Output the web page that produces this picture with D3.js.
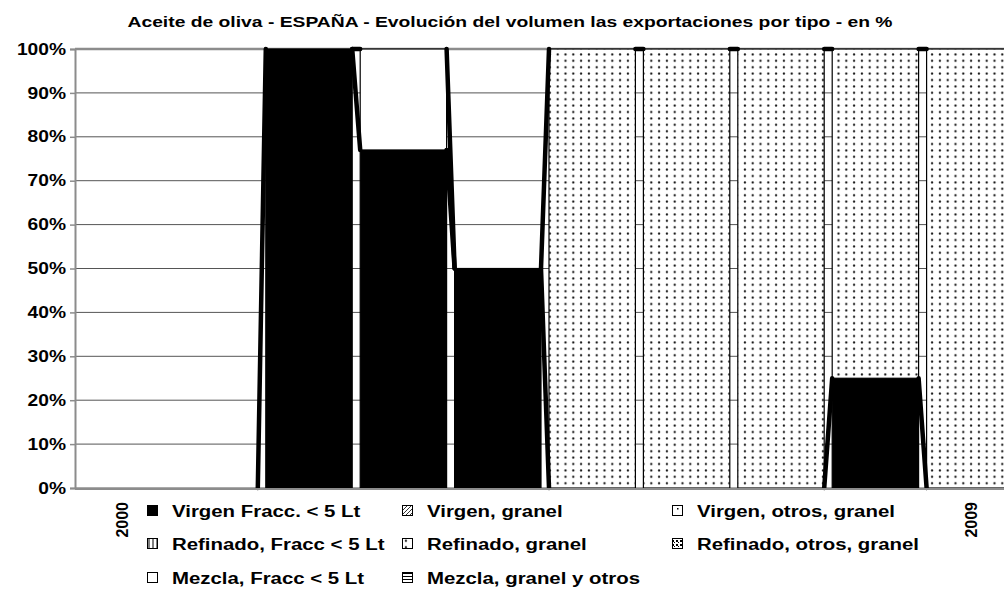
<!DOCTYPE html>
<meta charset="utf-8">
<body style="margin:0;background:#fff">
<div id="chart"></div>
<script src="https://cdn.jsdelivr.net/npm/d3@7/dist/d3.min.js"></script>
<script>
// years on the category axis
const years = ["2000", "2001", "2002", "2003", "2004", "2005", "2006", "2007", "2008", "2009"];

const seriesNames = ["Virgen Fracc. < 5 Lt", "Virgen, granel", "Virgen, otros, granel",
  "Refinado, Fracc < 5 Lt", "Refinado, granel", "Refinado, otros, granel",
  "Mezcla, Fracc < 5 Lt", "Mezcla, granel y otros"];

// % of volume
const virgenFracc    = [0, 0, 100, 77, 50, 0, 0, 0, 25, 0];
const virgenGranel   = [0, 0, 0, 0, 0, 0, 0, 0, 0, 0];
const virgenOtros    = [0, 0, 0, 0, 0, 0, 0, 0, 0, 0];
const refinadoFracc  = [0, 0, 0, 0, 0, 0, 0, 0, 0, 0];
const refinadoGranel = [0, 0, 0, 0, 0, 100, 100, 100, 75, 100];
const refinadoOtros  = [0, 0, 0, 0, 0, 0, 0, 0, 0, 0];
const mezclaFracc    = [0, 0, 0, 23, 0, 0, 0, 0, 0, 0];
const mezclaGranel   = [0, 0, 0, 0, 0, 0, 0, 0, 0, 0];

const yTicks = [0, 10, 20, 30, 40, 50, 60, 70, 80, 90, 100];

const width = 1004, height = 600,
    mLeft = 75, mTop = 49, plotW = 944, plotH = 439,
    padL = 2, padR = 6,
    stretch = 1.2; // the original text is a bit wide

const svg = d3.select("#chart").append("svg")
    .attr("width", width)
    .attr("height", height)
    .style("font-family", "'Liberation Sans', Arial, sans-serif")
    .style("font-weight", "bold");

// fill patterns, one per series
const defs = svg.append("defs");
function pattern(id, w, h) {
    const p = defs.append("pattern").attr("id", id)
        .attr("patternUnits", "userSpaceOnUse").attr("width", w).attr("height", h);
    p.append("rect").attr("width", w).attr("height", h).attr("fill", "#fff");
    return p;
}
pattern("pHatch", 4, 4).append("path").attr("d", "M0,4 L4,0 M-1,1 L1,-1 M3,5 L5,3").attr("stroke", "#000").attr("stroke-width", 0.8);
pattern("pSparse", 8, 8).append("rect").attr("x", 5).attr("y", 5).attr("width", 1.5).attr("height", 1.5).attr("fill", "#000");
pattern("pVert", 4, 4).append("rect").attr("x", 1.5).attr("width", 1).attr("height", 4).attr("fill", "#000");
var pd = pattern("pDots", 7.8, 6.4);
pd.append("circle").attr("cx", 3.9).attr("cy", 3.2).attr("r", 1.1).attr("fill", "#111");
var po = pattern("pDense", 4, 4);
po.append("rect").attr("width", 2).attr("height", 2).attr("fill", "#000");
po.append("rect").attr("x", 2).attr("y", 2).attr("width", 1).attr("height", 1).attr("fill", "#000");
pattern("pHoriz", 4, 3).append("rect").attr("y", 1).attr("width", 4).attr("height", 1).attr("fill", "#000");

const fills = ["#000", "url(#pHatch)", "url(#pSparse)", "url(#pVert)",
    "url(#pDots)", "url(#pDense)", "#fff", "url(#pHoriz)"];

// title
svg.append("text")
    .attr("x", 510)
    .attr("y", 27)
    .attr("text-anchor", "middle")
    .attr("textLength", 765)
    .attr("lengthAdjust", "spacingAndGlyphs")
    .style("font-size", "15px")
    .text("Aceite de oliva - ESPAÑA - Evolución del volumen las exportaciones por tipo - en %");

const x = d3.scaleBand().domain(years).range([mLeft, mLeft + plotW]);
const y = d3.scaleLinear().domain([0, 100]).range([mTop + plotH, mTop]);

// gridlines
svg.append("g").selectAll("line")
    .data(yTicks)
    .join("line")
    .attr("x1", mLeft).attr("x2", mLeft + plotW)
    .attr("y1", d => y(d)).attr("y2", d => y(d))
    .attr("stroke", d => d === 100 ? "#8c8c8c" : "#555")
    .attr("stroke-width", d => d === 100 ? 2.5 : 1);

// stacked data
const table = years.map((yr, i) => {
    const row = { year: yr };
    [virgenFracc, virgenGranel, virgenOtros, refinadoFracc, refinadoGranel,
     refinadoOtros, mezclaFracc, mezclaGranel].forEach((s, k) => row[seriesNames[k]] = s[i]);
    return row;
});
const stacked = d3.stack().keys(seriesNames)(table);

const bw = x.bandwidth();
const plot = svg.append("g");

// one block per year and series
stacked.forEach((layer, k) => {
    plot.append("g").selectAll("rect")
        .data(layer.filter(d => d[1] - d[0] > 0))
        .join("rect")
        .attr("x", d => x(d.data.year) + padL)
        .attr("width", bw - padL - padR)
        .attr("y", d => y(d[1]))
        .attr("height", d => y(d[0]) - y(d[1]))
        .attr("fill", fills[k])
        .attr("stroke", "#000")
        .attr("stroke-width", 1.2);
});

// the series outline jumps across the gap between years
stacked.forEach(layer => {
    const links = d3.pairs(layer).filter(([a, b]) => (a[1] - a[0]) > 0 || (b[1] - b[0]) > 0);
    plot.append("g").selectAll("line")
        .data(links)
        .join("line")
        .attr("x1", d => x(d[0].data.year) + bw - padR)
        .attr("y1", d => y(d[0][1]))
        .attr("x2", d => x(d[1].data.year) + padL)
        .attr("y2", d => y(d[1][1]))
        .attr("stroke", "#000")
        .attr("stroke-width", 4.5)
        .attr("stroke-linecap", "round");
});

// axes
svg.append("line")
    .attr("x1", mLeft).attr("x2", mLeft + plotW)
    .attr("y1", y(0) + 1).attr("y2", y(0) + 1)
    .attr("stroke", "#8c8c8c").attr("stroke-width", 2);

const yAxis = svg.append("g")
    .attr("transform", "translate(" + mLeft + ",0)")
    .call(d3.axisLeft(y).tickValues(yTicks).tickFormat(d => d + "%").tickSize(5).tickPadding(0));
yAxis.select(".domain").attr("stroke", "#8c8c8c").attr("stroke-width", 2);
yAxis.selectAll(".tick line").attr("stroke", "#8c8c8c").attr("stroke-width", 1.5);
yAxis.selectAll("text")
    .attr("x", 0)
    .attr("transform", "translate(-9,0) scale(" + stretch + ",1)")
    .style("font-size", "16px")
    .style("font-family", "'Liberation Sans', Arial, sans-serif")
    .style("font-weight", "bold")
    .attr("fill", "#000");

svg.append("g").selectAll("text")
    .data(years)
    .join("text")
    .attr("transform", d => "translate(" + (x(d) + bw / 2) + "," + (y(0) + 14) + ") rotate(-90)")
    .attr("text-anchor", "end")
    .attr("dy", "0.35em")
    .style("font-size", "16px")
    .text(d => d);

// legend, white box over the middle labels
const legend = svg.append("g");
legend.append("rect")
    .attr("x", 140).attr("y", 494).attr("width", 800).attr("height", 106)
    .attr("fill", "#fff");

const legCols = [147, 402, 672], legRows = [511, 544, 578];
const items = legend.selectAll("g.item")
    .data(seriesNames)
    .join("g")
    .attr("class", "item")
    .attr("transform", (d, i) => "translate(" + legCols[i % 3] + "," + legRows[Math.floor(i / 3)] + ")");
items.append("rect")
    .attr("x", 0.5).attr("y", -5.5)
    .attr("width", 10).attr("height", 10)
    .attr("fill", (d, i) => fills[i])
    .attr("stroke", "#000");
items.append("text")
    .attr("transform", "translate(25,0) scale(" + stretch + ",1)")
    .attr("dy", "0.36em")
    .style("font-size", "17px")
    .text(d => d);
</script>
</body>
